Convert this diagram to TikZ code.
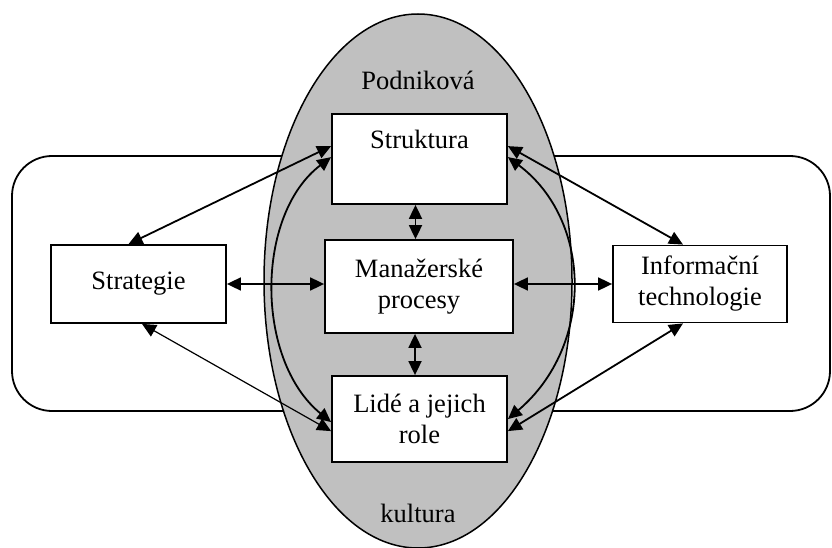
\documentclass[tikz,border=0pt]{standalone}
\usepackage{fontspec}
\setmainfont{Liberation Serif}
\usetikzlibrary{arrows.meta,calc}
\begin{document}
\begin{tikzpicture}[x=1pt,y=-1pt,
  box/.style={draw,line width=1.8pt,fill=white,inner sep=0pt,align=center,
    font=\fontsize{26.5}{31}\selectfont},
  lbl/.style={inner sep=0pt,font=\fontsize{26.5}{31}\selectfont},
  conn/.style={line width=1.8pt,{Triangle[length=14pt,width=13pt]}-{Triangle[length=14pt,width=13pt]}},
  thin/.style={line width=1.2pt,{Triangle[length=14pt,width=13pt]}-{Triangle[length=14pt,width=13pt]}}]
\useasboundingbox (0,0) rectangle (832,548);
% outer rounded frame
\draw[line width=1.8pt,rounded corners=40pt] (12,156) rectangle (830,411);
% ellipse
\draw[line width=1.5pt,fill={rgb,255:red,192;green,192;blue,192}] (418,281) ellipse [x radius=154, y radius=267];
\node[lbl] (pod) at (418,80) {Podniková};
\node[lbl] (kul) at (418,513) {kultura};
% boxes
\node[box,minimum width=175pt,minimum height=78pt] (strat) at (138.5,284) {Strategie};
\node[box,minimum width=174pt,minimum height=77pt] (it) at (700,284) {Informační\\technologie};
\node[box,minimum width=175pt,minimum height=90pt] (struk) at (419.5,159) {Struktura\\[0pt]\strut};
\node[box,minimum width=188pt,minimum height=93pt] (man) at (419,286.5) {Manažerské\\procesy};
\node[box,minimum width=175pt,minimum height=86pt] (lide) at (419.5,419) {Lidé a jejich\\role};
% horizontal and vertical connectors
\draw[conn] (strat.east) -- (man.west |- strat.east);
\draw[conn] (man.east |- it.west) -- (it.west);
\draw[conn] ([xshift=-4pt]struk.south) -- ([xshift=-4pt]struk.south |- man.north);
\draw[conn] ([xshift=-4pt]man.south) -- ([xshift=-4pt]man.south |- lide.north);
% diagonal connectors
\draw[conn] ([yshift=-33pt]struk.north west) -- ([xshift=-10pt]strat.north);
\draw[thin] ([xshift=3.5pt]strat.south) -- ([yshift=-56pt]lide.north west);
\draw[conn] ([yshift=-33pt]struk.north east) -- ([xshift=-17pt]it.north);
\draw[conn] ([xshift=-17pt]it.south) -- ([yshift=-56pt]lide.north east);
% curved connectors
\draw[conn] ([yshift=-44pt]struk.north west) .. controls (255,215) and (255,360) .. ([yshift=-47pt]lide.north west);
\draw[conn] ([yshift=-44pt]struk.north east) .. controls (592,220) and (595,345) .. ([yshift=-44pt]lide.north east);
\end{tikzpicture}
\end{document}
